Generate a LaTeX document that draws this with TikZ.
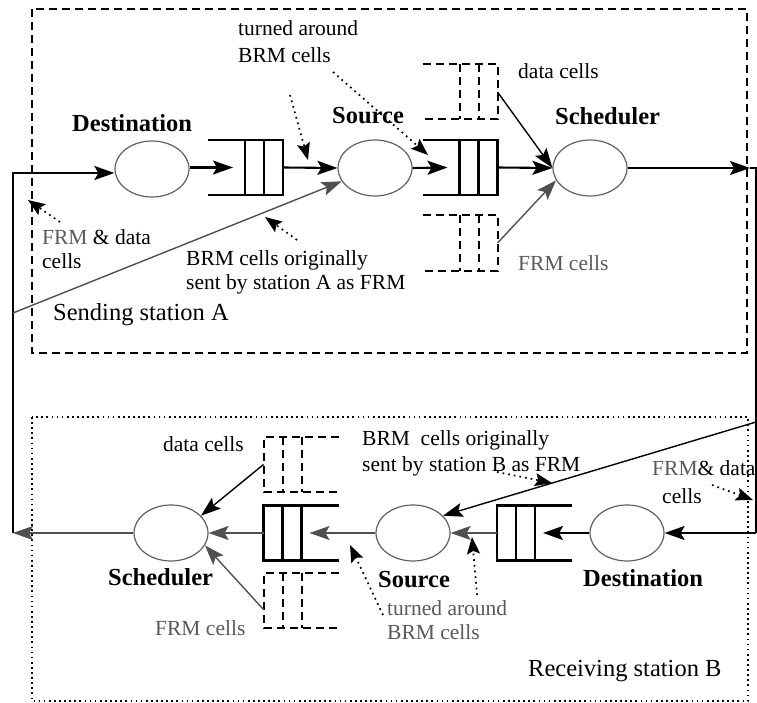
\documentclass[tikz,border=0pt]{standalone}
\usepackage{fontspec}
\setmainfont{Liberation Serif}
\usetikzlibrary{arrows.meta,calc,shapes.geometric}
\definecolor{tgray}{HTML}{595959}
\definecolor{agray}{HTML}{505050}
\definecolor{egray}{HTML}{5F5F5F}
\newcommand\queueR[2][]{%
  \draw[#1] (#2.north west) -- (#2.north east) -- (#2.south east) -- (#2.south west);
  \draw[#1] ($(#2.north east)+(-19,0)$) -- ($(#2.south east)+(-19,0)$);
  \draw[#1] ($(#2.north east)+(-38,0)$) -- ($(#2.south east)+(-38,0)$);}
\newcommand\queueL[2][]{%
  \draw[#1] (#2.north east) -- (#2.north west) -- (#2.south west) -- (#2.south east);
  \draw[#1] ($(#2.north west)+(19,0)$) -- ($(#2.south west)+(19,0)$);
  \draw[#1] ($(#2.north west)+(38,0)$) -- ($(#2.south west)+(38,0)$);}
\tikzset{
  ell/.style={ellipse, draw=egray, line width=1.2pt, minimum width=74pt, minimum height=56pt, inner sep=0pt},
  qbox/.style={rectangle, minimum width=75pt, minimum height=55pt, inner sep=0pt, outer sep=0pt},
  qsolid/.style={line width=2.1pt},
  qdash/.style={line width=2pt, dash pattern=on 8pt off 5pt},
  tipk/.style={-{Stealth[length=20pt,width=14pt,inset=4pt]}},
  flow/.style={line width=2.1pt, tipk},
  gflow/.style={line width=1.8pt, draw=agray, tipk},
  thinflow/.style={line width=1.4pt, tipk},
  dots/.style={line width=1.7pt, dash pattern=on 1.7pt off 4pt, -{Stealth[length=17pt,width=13pt,inset=3pt]}},
  txt/.style={font=\fontsize{21.5}{24}\selectfont, inner sep=0pt, align=left},
  lbl/.style={font=\fontsize{24.5}{28}\selectfont\bfseries, inner sep=0pt},
  stn/.style={font=\fontsize{24.5}{28}\selectfont, inner sep=0pt},
  boxdash/.style={line width=1.7pt, dash pattern=on 8pt off 5pt},
  boxdot/.style={line width=1.7pt, dash pattern=on 1.7pt off 3.4pt},
}
\begin{document}
\begin{tikzpicture}[x=1pt,y=-1pt]
\useasboundingbox (0,0) rectangle (757,703);

% station frames
\draw[boxdash] (32,9) rectangle (747,353);
\draw[boxdot] (32,417) rectangle (748,701);

% ---------- sending station A ----------
\node[ell] (DestA) at (152,169) {};
\node[ell] (SrcA) at (375,168) {};
\node[ell] (SchA) at (590,168) {};
\node[qbox] (qA1) at (245.5,167.5) {};
\node[qbox] (qA2) at (460,167.5) {};
\node[qbox] (qAU) at (460,92) {};
\node[qbox] (qAL) at (460,243) {};
\queueR[qsolid]{qA1}
\queueR[qsolid]{qA2}
\queueR[qdash]{qAU}
\queueR[qdash]{qAL}

\node[lbl, anchor=base west] (lDestA) at (72,132) {Destination};
\node[lbl, anchor=base west] (lSrcA) at (332,124) {Source};
\node[lbl, anchor=base west] (lSchA) at (555,125) {Scheduler};

\node[txt, anchor=north west] (tTurnA) at (238,20.5) {turned around\\[3pt]BRM cells};
\node[txt, anchor=base west] (tDataA) at (518,79) {data cells};
\node[txt, anchor=base west, text=tgray] (tFrmA) at (518,270) {FRM cells};
\node[txt, anchor=north west] (tFrmDataA) at (42,229.5) {\textcolor{tgray}{FRM} \& data\\cells};
\node[txt, anchor=north west] (tBrmA) at (186,250.3) {BRM cells originally\\sent by station A as FRM};
\node[stn, anchor=base west] (tStnA) at (53,320) {Sending station A};

% ---------- receiving station B ----------
\node[ell] (SchB) at (171,533) {};
\node[ell] (SrcB) at (413,533) {};
\node[ell] (DestB) at (627,533) {};
\node[qbox] (qB1) at (301,533) {};
\node[qbox] (qBU) at (301,464.5) {};
\node[qbox] (qBL) at (301,600.5) {};
\node[qbox] (qB2) at (534.5,533) {};
\queueL[qsolid]{qB1}
\queueL[qdash]{qBU}
\queueL[qdash]{qBL}
\queueL[qsolid]{qB2}

\node[lbl, anchor=base west] (lSchB) at (108,585) {Scheduler};
\node[lbl, anchor=base west] (lSrcB) at (378,587) {Source};
\node[lbl, anchor=base west] (lDestB) at (583,586) {Destination};

\node[txt, anchor=base west] (tDataB) at (163,451) {data cells};
\node[txt, anchor=base west, text=tgray] (tFrmB) at (155,635) {FRM cells};
\node[txt, anchor=north west] (tBrmB) at (362,430.3) {BRM\ \ cells originally\\[2pt]sent by station B as FRM};
\node[txt, anchor=north west] (tFrmDataB) at (652,460.3) {\textcolor{tgray}{FRM}\& data\\[4pt]\hspace{10pt}cells};
\node[txt, anchor=north west, text=tgray] (tTurnB) at (387,600.3) {turned around\\BRM cells};
\node[stn, anchor=base west] (tStnB) at (528,676) {Receiving station B};

% ---------- link coordinates ----------
\coordinate (cLB) at (13,533);
\coordinate (cLT) at (13,173);
\coordinate (cLS) at (13,313);
\coordinate (cRTa) at (750,168);
\coordinate (cRT) at (756,168);
\coordinate (cRB) at (756,533);
\coordinate (cRS) at (756,422);

% ---------- flows A ----------
\draw[flow] (cLB) -- (cLT) -- (DestA.west |- cLT);
\draw[flow] (DestA.east |- qA1) -- ($(qA1.west)+(25,0)$);
\draw[flow] (qA1.east) -- (SrcA.west);
\draw[flow] (SrcA.east) -- ($(qA2.west)+(25,0)$);
\draw[flow] (qA2.east) -- (SchA.west);
\draw[thinflow] (qAU.east) -- (SchA.west);
\draw[gflow, line width=1.4pt] (qAL.east) -- (SchA.200);
\draw[gflow, line width=1.4pt] (cLS) -- (SrcA);
\draw[flow] (SchA.east) -- (cRTa);
\draw[line width=1.4pt] (cRTa) -- (cRT) -- (cRB);
\draw[flow] (cRB) -- (DestB.east);

% ---------- flows B ----------
\draw[flow] (DestB.west) -- ($(qB2.east)+(-29,0)$);
\draw[gflow] (qB2.west) -- (SrcB.east);
\draw[gflow] (SrcB.west) -- ($(qB1.east)+(-29,0)$);
\draw[gflow] (qB1.west) -- (SchB.east);
\draw[gflow] (SchB.west) -- (cLB);
\draw[thinflow] (qBU.west) -- (SchB.30);
\draw[gflow, line width=1.4pt] ($(qBL.west)+(0,9)$) -- (SchB.-20);
\draw[thinflow] (cRS) -- (SrcB.30);

% ---------- dotted annotation pointers ----------
\coordinate (d1s) at (290,95);  \coordinate (d1e) at (308,160);
\coordinate (d2s) at (333,72);  \coordinate (d2e) at (428,155);
\coordinate (d3s) at (60,222);  \coordinate (d3e) at (28,200);
\coordinate (d4s) at (297,240); \coordinate (d4e) at (265,217);
\coordinate (d5s) at (497,472); \coordinate (d5e) at (552,483);
\coordinate (d6s) at (712,485); \coordinate (d6e) at (753,500);
\coordinate (d7s) at (477,595); \coordinate (d7e) at (472,537);
\coordinate (d8s) at (383,615); \coordinate (d8e) at (350,545);
\draw[dots] (d1s) -- (d1e);
\draw[dots] (d2s) -- (d2e);
\draw[dots] (d3s) -- (d3e);
\draw[dots] (d4s) -- (d4e);
\draw[dots] (d5s) -- (d5e);
\draw[dots] (d6s) -- (d6e);
\draw[dots] (d7s) -- (d7e);
\draw[dots] (d8s) -- (d8e);
\end{tikzpicture}
\end{document}
